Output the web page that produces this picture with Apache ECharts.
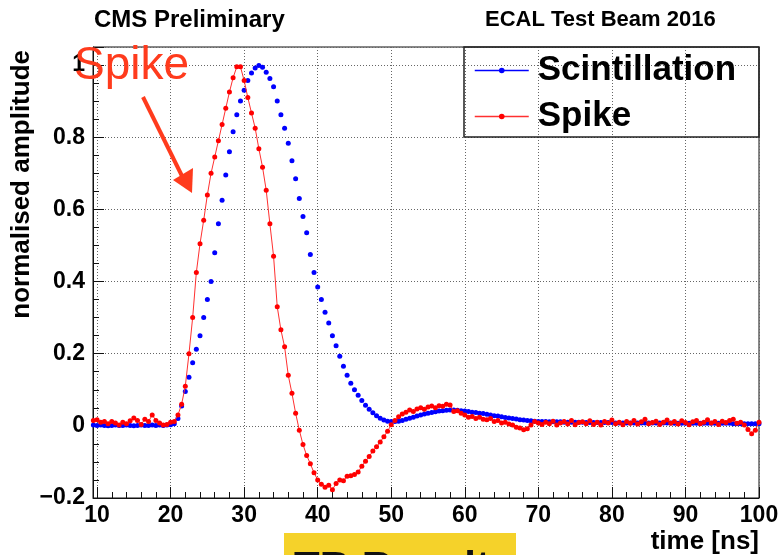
<!DOCTYPE html>
<html>
<head>
<meta charset="utf-8">
<script src="https://cdn.jsdelivr.net/npm/echarts@6/dist/echarts.min.js"></script>
<style>
html,body{margin:0;padding:0;background:#fff;}
#chart{width:782px;height:555px;}
</style>
</head>
<body>
<div id="chart"></div>
<script>
// time samples [ns]
var times = [
  9.5,10,10.5,11,11.5,12,12.5,13,13.5,14,14.5,15,15.5,16,16.5,17,17.5,18,18.5,19,19.5,20,20.5,
  21,21.5,22,22.5,23,23.5,24,24.5,25,25.5,
  26,26.5,27,27.5,28,28.5,29,29.5,30,30.5,
  31,31.5,32,32.5,33,33.5,34,34.5,35,35.5,
  36,36.5,37,37.5,38,38.5,39,39.5,40,40.5,
  41,41.5,42,42.5,43,43.5,44,44.5,45,45.5,
  46,46.5,47,47.5,48,48.5,49,49.5,50,
  50.5,51,51.5,52,52.5,53,53.5,54,54.5,55,
  55.5,56,56.5,57,57.5,58,58.5,59,59.5,60,
  60.5,61,61.5,62,62.5,63,63.5,64,64.5,65,
  65.5,66,66.5,67,67.5,68,68.5,69,69.5,70,
  70.5,71,71.5,72,72.5,73,73.5,74,74.5,75,
  75.5,76,76.5,77,77.5,78,78.5,79,79.5,80,
  80.5,81,81.5,82,82.5,83,83.5,84,84.5,85,
  85.5,86,86.5,87,87.5,88,88.5,89,89.5,90,
  90.5,91,91.5,92,92.5,93,93.5,94,94.5,95,
  95.5,96,96.5,97,97.5,98,98.5,99,99.5,100
];
// normalised amplitude, scintillation pulse
var scintillation = [
  0.002,0.001,0.002,0.001,0.000,0.001,0.002,0.001,0.001,0.002,0.001,0.000,0.001,0.002,0.001,0.001,0.002,0.001,0.002,0.001,0.002,0.003,0.006,
  0.020,0.055,0.095,0.135,0.175,0.212,0.250,0.300,0.350,0.400,
  0.480,0.560,0.625,0.695,0.760,0.815,0.862,0.900,0.930,0.957,
  0.978,0.992,0.999,0.994,0.980,0.963,0.940,0.900,0.862,0.825,
  0.783,0.735,0.685,0.630,0.580,0.535,0.475,0.425,0.385,0.350,
  0.315,0.285,0.250,0.222,0.193,0.165,0.140,0.118,0.100,0.085,
  0.070,0.057,0.046,0.036,0.028,0.021,0.016,0.013,0.012,
  0.012,0.013,0.015,0.018,0.021,0.024,0.027,0.030,0.033,0.035,
  0.037,0.039,0.041,0.042,0.043,0.044,0.044,0.043,0.042,0.041,
  0.040,0.038,0.037,0.035,0.034,0.032,0.030,0.028,0.027,0.025,
  0.023,0.022,0.020,0.019,0.017,0.016,0.015,0.014,0.013,0.012,
  0.012,0.012,0.011,0.011,0.011,0.011,0.010,0.010,0.010,0.010,
  0.010,0.010,0.009,0.009,0.009,0.009,0.009,0.009,0.009,0.009,
  0.008,0.008,0.008,0.008,0.008,0.008,0.008,0.008,0.008,0.008,
  0.008,0.008,0.008,0.008,0.008,0.008,0.007,0.007,0.007,0.007,
  0.007,0.007,0.007,0.007,0.007,0.007,0.007,0.007,0.007,0.007,
  0.007,0.007,0.006,0.006,0.006,0.006,0.006,0.006,0.006,0.006
];
// normalised amplitude, spike pulse
var spike = [
  0.015,0.017,0.010,0.012,0.006,0.012,0.008,0.002,0.010,0.006,0.014,0.022,0.015,0.004,0.018,0.012,0.030,0.015,0.008,0.002,0.004,0.010,0.012,
  0.030,0.060,0.110,0.200,0.300,0.425,0.505,0.570,0.640,0.700,
  0.745,0.790,0.835,0.880,0.925,0.965,0.995,0.995,0.957,0.910,
  0.867,0.825,0.768,0.717,0.653,0.560,0.470,0.330,0.266,0.219,
  0.140,0.090,0.035,-0.012,-0.052,-0.082,-0.105,-0.130,-0.150,-0.162,
  -0.170,-0.165,-0.177,-0.160,-0.150,-0.152,-0.140,-0.138,-0.135,-0.128,
  -0.112,-0.098,-0.085,-0.070,-0.058,-0.045,-0.030,-0.015,0.003,
  0.015,0.025,0.033,0.038,0.044,0.040,0.047,0.050,0.046,0.052,
  0.055,0.050,0.056,0.054,0.060,0.058,0.040,0.042,0.035,0.030,
  0.024,0.026,0.020,0.024,0.018,0.017,0.020,0.012,0.015,0.008,
  0.010,0.005,0.002,-0.004,-0.006,-0.011,-0.008,0.002,0.012,0.008,
  0.004,0.010,0.006,0.013,0.002,0.008,0.012,0.005,0.015,0.003,
  0.009,0.011,0.006,0.014,0.004,0.010,0.002,0.012,0.008,0.016,
  0.006,0.010,0.003,0.012,0.007,0.015,0.005,0.011,0.018,0.006,
  0.009,0.013,0.004,0.010,0.016,0.007,0.012,0.005,0.014,0.009,
  0.003,0.011,0.015,0.006,0.010,0.017,0.008,0.012,0.004,0.013,
  0.009,0.015,0.018,0.007,0.010,0.002,-0.010,-0.022,-0.012,0.010
];
var seriesNames = ['Scintillation', 'Spike'];
var xRange = [9.45, 100];
var yRange = [-0.2, 1.05];

function pairs(vals) { return times.map(function (t, i) { return [t, vals[i]]; }); }

var FONT = 'Liberation Sans, Arial, Helvetica, sans-serif';
var chart = echarts.init(document.getElementById('chart'), null, {renderer: 'canvas'});
var option = {
  animation: false,
  backgroundColor: '#ffffff',
  grid: {left: 93, right: 23, top: 47, bottom: 57, show: true, borderColor: '#111', borderWidth: 1, backgroundColor: 'transparent'},
  legend: {
    data: seriesNames,
    orient: 'vertical',
    left: 474, top: 53,
    padding: 0,
    itemGap: 11,
    itemWidth: 54, itemHeight: 7,
    lineStyle: {width: 1.5},
    textStyle: {fontFamily: FONT, fontWeight: 'bold', fontSize: 35, lineHeight: 34, color: '#000', padding: [0, 0, 0, 4]}
  },
  xAxis: {
    type: 'value', min: xRange[0], max: xRange[1], splitNumber: 9,
    axisLine: {onZero: false, lineStyle: {color: '#111', width: 1}},
    axisTick: {inside: true, length: 11, lineStyle: {color: '#111'}},
    minorTick: {show: true, splitNumber: 5, length: 6, lineStyle: {color: '#111'}},
    splitLine: {show: true, lineStyle: {color: '#666', type: [1, 2], width: 1}},
    axisLabel: {showMinLabel: false, margin: 6, fontFamily: FONT, fontWeight: 'bold', fontSize: 23, color: '#000'}
  },
  yAxis: {
    type: 'value', min: yRange[0], max: yRange[1], splitNumber: 6,
    axisLine: {show: true, lineStyle: {color: '#111', width: 1}},
    axisTick: {show: true, inside: true, length: 11, lineStyle: {color: '#111'}},
    minorTick: {show: true, splitNumber: 4, length: 6, lineStyle: {color: '#111'}},
    splitLine: {show: true, lineStyle: {color: '#666', type: [1, 2], width: 1}},
    axisLabel: {
      showMaxLabel: false, margin: 8, fontFamily: FONT, fontWeight: 'bold', fontSize: 23, color: '#000',
      formatter: function (v) { return v < 0 ? '\u2212' + String(Math.abs(v)) : String(v); }
    }
  },
  series: [
    {
      name: seriesNames[0], type: 'line', data: pairs(scintillation),
      color: '#0000ff', symbol: 'circle', symbolSize: 5, showAllSymbol: true,
      lineStyle: {width: 0, color: '#0000ff'}, itemStyle: {color: '#0000ff'}, z: 3
    },
    {
      name: seriesNames[1], type: 'line', data: pairs(spike),
      color: '#ff0000', symbol: 'circle', symbolSize: 5, showAllSymbol: true,
      lineStyle: {width: 1, color: '#ff3030'}, itemStyle: {color: '#ff0000'}, z: 4
    }
  ],
  graphic: [
    {type: 'rect', shape: {x: 464, y: 47, width: 295, height: 90}, style: {fill: 'none', stroke: '#222', lineWidth: 1.5}, z: 10, silent: true},
    {type: 'text', x: 94, y: 20, style: {text: 'CMS Preliminary', font: 'bold 24px ' + FONT, fill: '#000', textVerticalAlign: 'middle'}, z: 10},
    {type: 'text', x: 485, y: 20, style: {text: 'ECAL Test Beam 2016', font: 'bold 22px ' + FONT, fill: '#000', textVerticalAlign: 'middle'}, z: 10},
    {type: 'text', x: 759, y: 542, style: {text: 'time [ns]', font: 'bold 26px ' + FONT, fill: '#000', textAlign: 'right', textVerticalAlign: 'middle'}, z: 10},
    {type: 'text', x: 22, y: 50, rotation: Math.PI / 2, style: {text: 'normalised amplitude', font: 'bold 26px ' + FONT, fill: '#000', textAlign: 'right', textVerticalAlign: 'middle'}, z: 10},
    {type: 'text', x: 74, y: 43, style: {text: 'Spike', font: '46px ' + FONT, fill: '#ff3b1d', textVerticalAlign: 'top'}, z: 20},
    {type: 'line', shape: {x1: 143, y1: 97, x2: 182, y2: 176}, style: {stroke: '#ff3b1d', lineWidth: 4}, z: 20},
    {type: 'polygon', shape: {points: [[173, 180], [193, 168], [192, 193]]}, style: {fill: '#ff3b1d'}, z: 20},
    {type: 'rect', shape: {x: 284, y: 533, width: 232, height: 30}, style: {fill: '#f5d22a'}, z: 10},
    {type: 'text', x: 294, y: 548, style: {text: 'TB Result', font: 'bold 42px ' + FONT, fill: '#111', textVerticalAlign: 'top'}, z: 11}
  ]
};
chart.setOption(option);
</script>
</body>
</html>
